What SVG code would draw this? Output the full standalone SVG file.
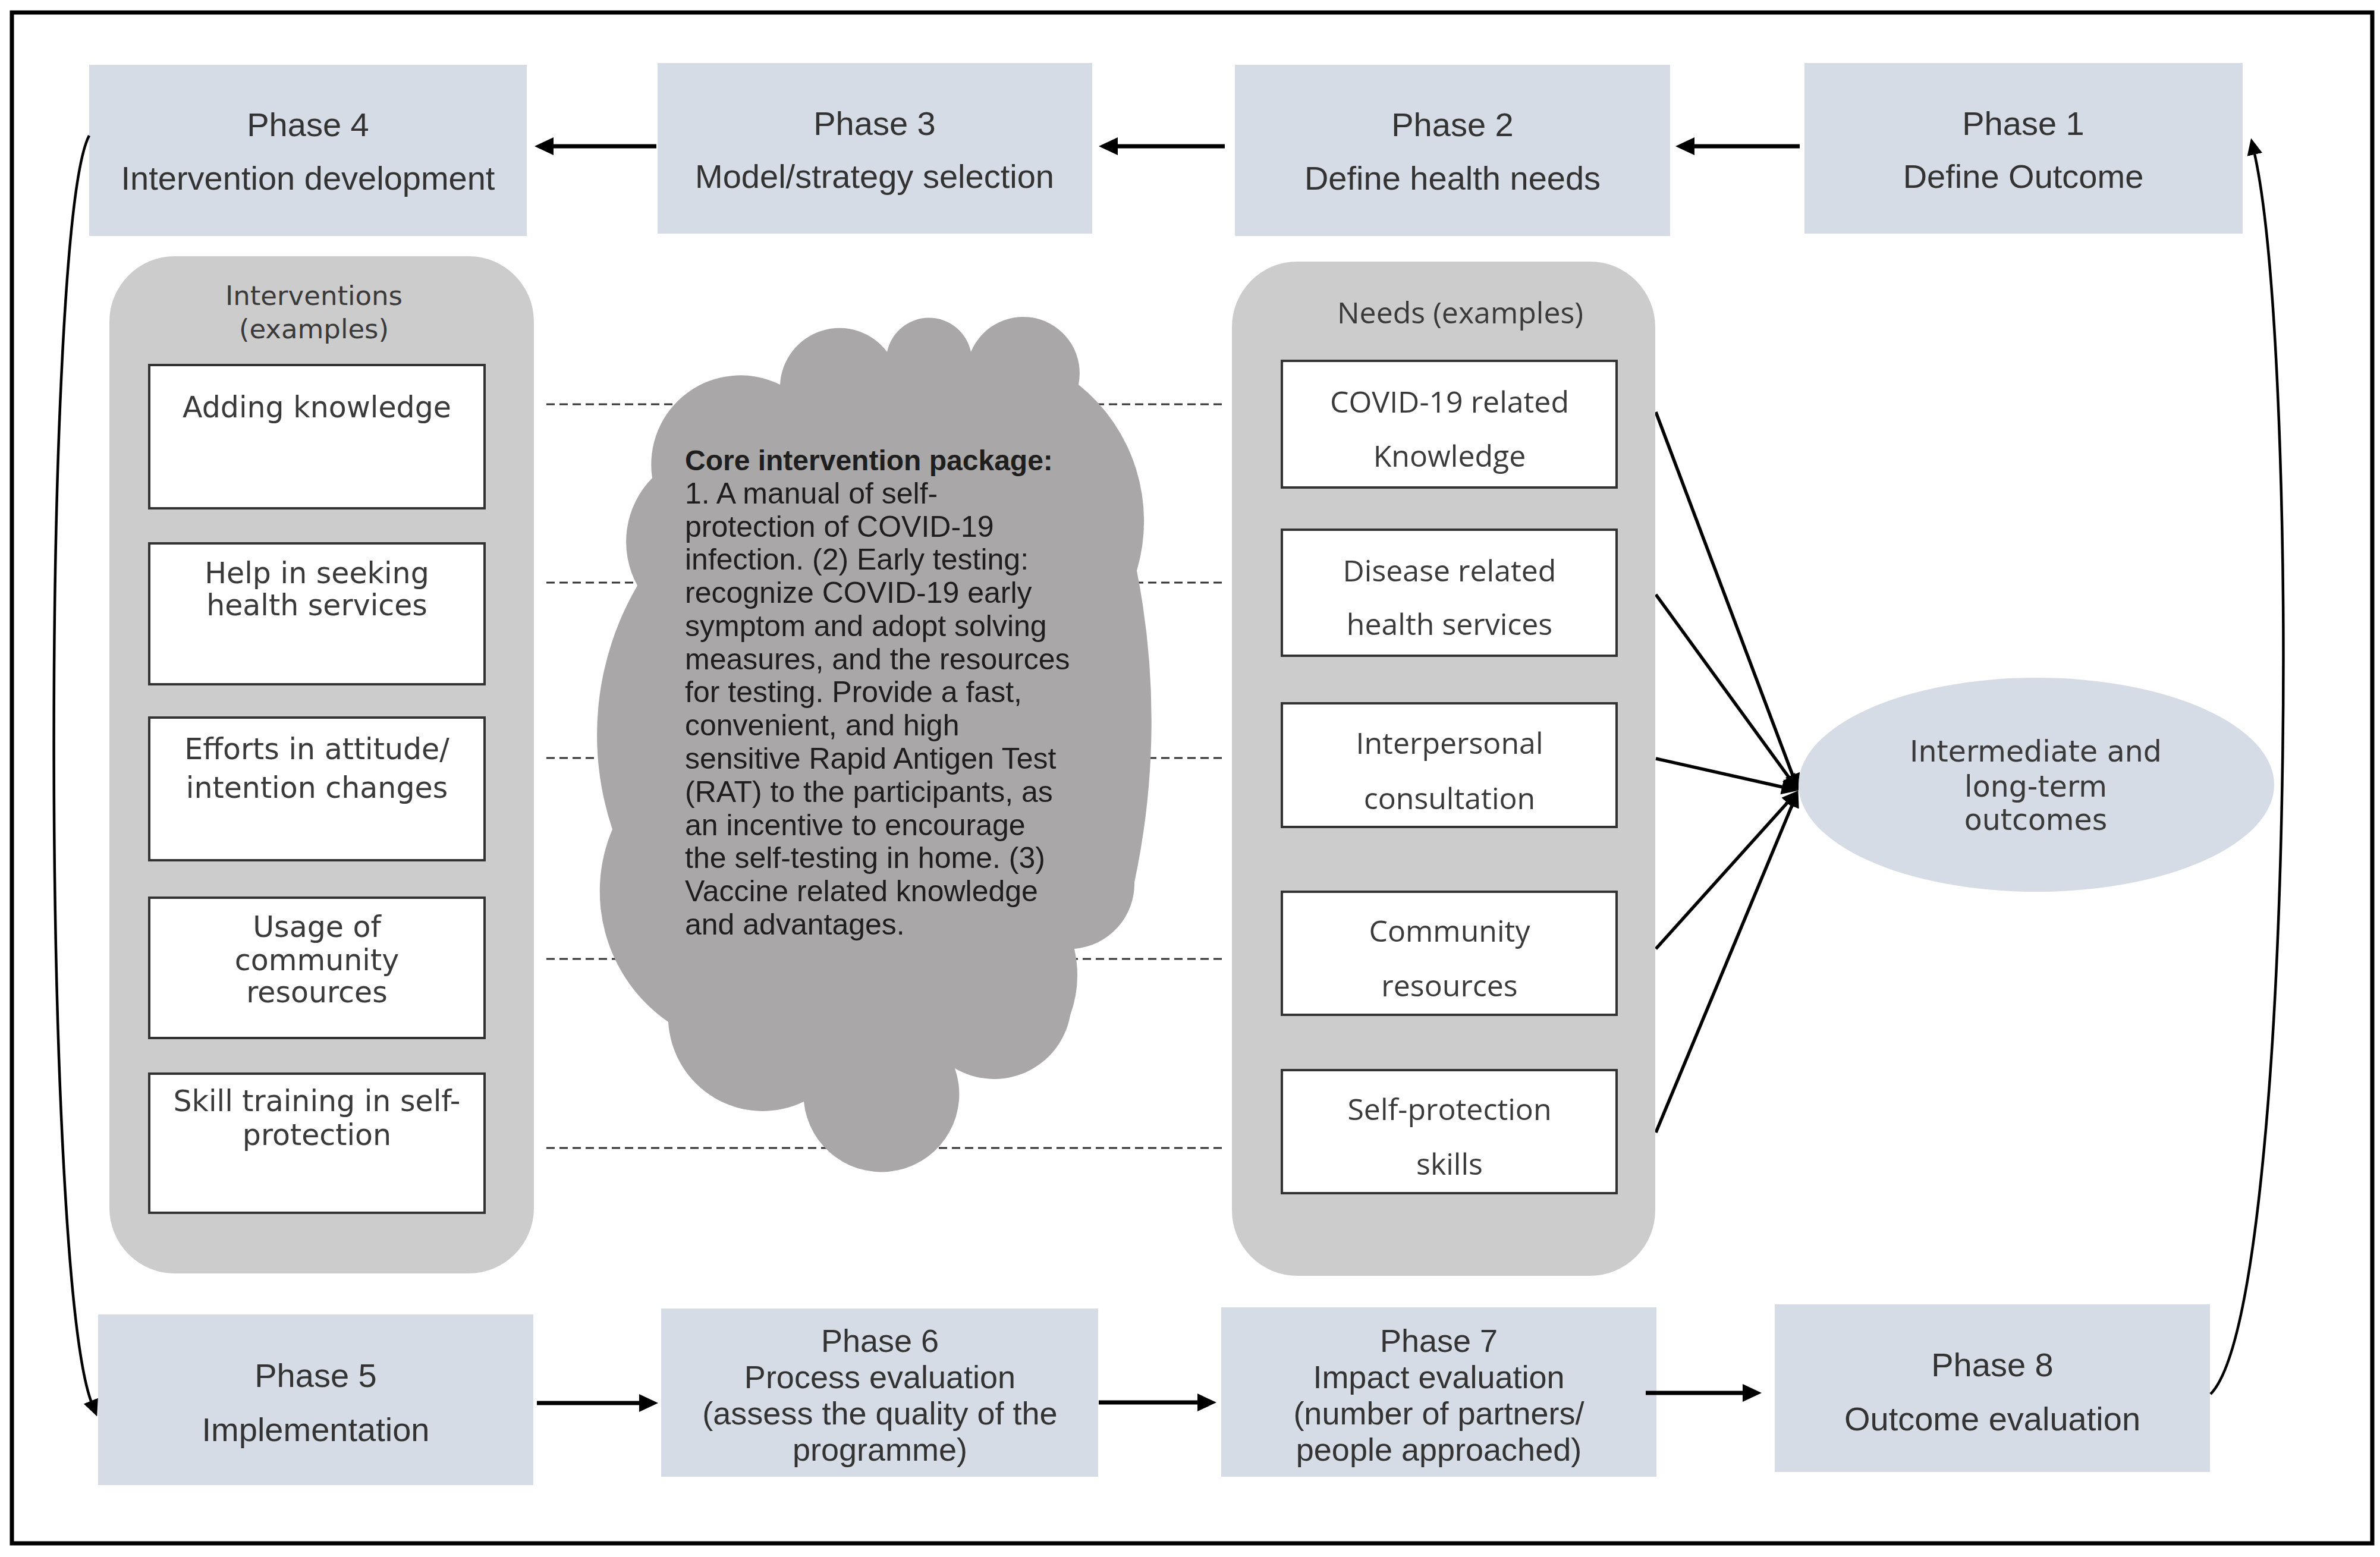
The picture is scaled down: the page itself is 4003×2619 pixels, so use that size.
<svg xmlns="http://www.w3.org/2000/svg" width="4003" height="2619" viewBox="0 0 4003 2619">
<style>
.phase{fill:#d6dce5}
.pt{font-family:"Liberation Sans",Arial,sans-serif;font-size:56px;fill:#333;text-anchor:middle}
.pt4{font-size:54px}
.panel{fill:#cdcccc}
.box{fill:#fff;stroke:#333;stroke-width:4}
.lt{font-family:"DejaVu Sans","Liberation Sans",sans-serif;font-size:49px;fill:#3a3a3a;text-anchor:middle}
.rt{font-family:"Open Sans","Liberation Sans",sans-serif;font-size:50px;fill:#3a3a3a;text-anchor:middle}
.ct{font-family:"Liberation Sans",Arial,sans-serif;font-size:50px;fill:#1e1e1e}
.dash{stroke:#333;stroke-width:3;stroke-dasharray:14 8;fill:none}
.thick{stroke:#000;stroke-width:7;fill:none;marker-end:url(#ah)}
.thin{stroke:#000;stroke-width:4.5;fill:none;marker-end:url(#ah2)}
.conv{stroke:#000;stroke-width:5.5;fill:none;marker-end:url(#ah2)}
.cloud{fill:#a9a7a7}
</style>
<defs>
<marker id="ah" markerUnits="userSpaceOnUse" markerWidth="32" markerHeight="30" viewBox="0 0 32 30" refX="8" refY="15" orient="auto"><path d="M0,0 L32,15 L0,30 z" fill="#000"/></marker>
<marker id="ah2" markerUnits="userSpaceOnUse" markerWidth="28" markerHeight="26" viewBox="0 0 28 26" refX="6" refY="13" orient="auto"><path d="M0,0 L28,13 L0,26 z" fill="#000"/></marker>
</defs>
<rect x="0" y="0" width="4003" height="2619" fill="#fff"/>
<rect id="frame" x="20" y="21" width="3970" height="2575" fill="none" stroke="#000" stroke-width="7"/>

<g id="phase4"><rect class="phase" x="150" y="109" width="736" height="288"/><text class="pt" x="518" y="229">Phase 4</text><text class="pt" x="518" y="319">Intervention development</text></g>
<g id="phase3"><rect class="phase" x="1106" y="106" width="731" height="287"/><text class="pt" x="1471" y="227">Phase 3</text><text class="pt" x="1471" y="316">Model/strategy selection</text></g>
<g id="phase2"><rect class="phase" x="2077" y="109" width="732" height="288"/><text class="pt" x="2443" y="229">Phase 2</text><text class="pt" x="2443" y="319">Define health needs</text></g>
<g id="phase1"><rect class="phase" x="3035" y="106" width="737" height="287"/><text class="pt" x="3403" y="227">Phase 1</text><text class="pt" x="3403" y="316">Define Outcome</text></g>

<g id="phase5"><rect class="phase" x="165" y="2211" width="732" height="287"/><text class="pt" x="531" y="2333">Phase 5</text><text class="pt" x="531" y="2424">Implementation</text></g>
<g id="phase6"><rect class="phase" x="1112" y="2201" width="735" height="283"/><text class="pt pt4" x="1480" y="2274">Phase 6</text><text class="pt pt4" x="1480" y="2335">Process evaluation</text><text class="pt pt4" x="1480" y="2396">(assess the quality of the</text><text class="pt pt4" x="1480" y="2457">programme)</text></g>
<g id="phase7"><rect class="phase" x="2054" y="2199" width="732" height="285"/><text class="pt pt4" x="2420" y="2274">Phase 7</text><text class="pt pt4" x="2420" y="2335">Impact evaluation</text><text class="pt pt4" x="2420" y="2396">(number of partners/</text><text class="pt pt4" x="2420" y="2457">people approached)</text></g>
<g id="phase8"><rect class="phase" x="2985" y="2194" width="732" height="282"/><text class="pt" x="3351" y="2315">Phase 8</text><text class="pt" x="3351" y="2406">Outcome evaluation</text></g>

<g id="connectors">
<line class="dash" x1="919" y1="680" x2="2056" y2="680"/>
<line class="dash" x1="919" y1="980" x2="2056" y2="980"/>
<line class="dash" x1="919" y1="1275" x2="2056" y2="1275"/>
<line class="dash" x1="919" y1="1613" x2="2056" y2="1613"/>
<line class="dash" x1="919" y1="1931" x2="2056" y2="1931"/>
<path class="thick" d="M3027,246 L2842,246"/>
<path class="thick" d="M2060,246 L1872,246"/>
<path class="thick" d="M1104,246 L923,246"/>
<path class="thick" d="M903,2360 L1083,2360"/>
<path class="thick" d="M1848,2359 L2022,2359"/>
<path class="thick" d="M2768,2343 L2939,2343"/>
<path class="thin" d="M150,228 C70,380 70,2150 155,2362"/>
<path class="thin" d="M3718,2345 C3860,2200 3870,600 3791,254"/>
<path class="conv" d="M2785,693 L3017,1309"/>
<path class="conv" d="M2785,1000 L3012,1312"/>
<path class="conv" d="M2785,1276 L3003,1325"/>
<path class="conv" d="M2785,1596 L3010,1346"/>
<path class="conv" d="M2785,1905 L3016,1350"/>
</g>

<g id="interventions">
<rect class="panel" x="184" y="431" width="714" height="1711" rx="110" ry="110"/>
<text class="lt" x="528" y="513" style="font-size:45px">Interventions</text>
<text class="lt" x="528" y="569" style="font-size:45px">(examples)</text>
<rect class="box" x="251" y="614" width="564" height="241"/>
<text class="lt" x="533" y="702">Adding knowledge</text>
<rect class="box" x="251" y="914" width="564" height="237"/>
<text class="lt" x="533" y="981">Help in seeking</text><text class="lt" x="533" y="1035">health services</text>
<rect class="box" x="251" y="1207" width="564" height="240"/>
<text class="lt" x="533" y="1277">Efforts in attitude/</text><text class="lt" x="533" y="1342">intention changes</text>
<rect class="box" x="251" y="1510" width="564" height="236"/>
<text class="lt" x="533" y="1576">Usage of</text><text class="lt" x="533" y="1632">community</text><text class="lt" x="533" y="1686">resources</text>
<rect class="box" x="251" y="1806" width="564" height="234"/>
<text class="lt" x="533" y="1869">Skill training in self-</text><text class="lt" x="533" y="1926">protection</text>
</g>

<g id="needs">
<rect class="panel" x="2072" y="440" width="712" height="1706" rx="110" ry="110"/>
<text class="rt" x="2456" y="544">Needs (examples)</text>
<rect class="box" x="2156" y="607" width="563" height="213"/>
<text class="rt" x="2438" y="694">COVID-19 related</text><text class="rt" x="2438" y="785">Knowledge</text>
<rect class="box" x="2156" y="891" width="563" height="212"/>
<text class="rt" x="2438" y="978">Disease related</text><text class="rt" x="2438" y="1068">health services</text>
<rect class="box" x="2156" y="1183" width="563" height="208"/>
<text class="rt" x="2438" y="1268">Interpersonal</text><text class="rt" x="2438" y="1361">consultation</text>
<rect class="box" x="2156" y="1500" width="563" height="207"/>
<text class="rt" x="2438" y="1584">Community</text><text class="rt" x="2438" y="1676">resources</text>
<rect class="box" x="2156" y="1800" width="563" height="207"/>
<text class="rt" x="2438" y="1884">Self-protection</text><text class="rt" x="2438" y="1976">skills</text>
</g>

<g id="outcomes">
<ellipse cx="3425" cy="1320" rx="400" ry="180" fill="#d6dce5"/>
<text class="lt" x="3424" y="1281">Intermediate and</text>
<text class="lt" x="3424" y="1340">long-term</text>
<text class="lt" x="3424" y="1396">outcomes</text>
</g>

<g id="core-package">
<path class="cloud" d="M1097,804 A150,150 0 0 1 1312,647 A100,100 0 0 1 1492,592 A72,72 0 0 1 1633,592 A95,95 0 0 1 1814,647 A294,294 0 0 1 1912,960 A1300,1300 0 0 1 1908,1484 A110,110 0 0 1 1807,1596 A200,200 0 0 1 1800,1708 A130,130 0 0 1 1606,1797 A131,131 0 1 1 1352,1853 A159,159 0 0 1 1124,1719 A267,267 0 0 1 1030,1395 A499,499 0 0 1 1072,985 A153,153 0 0 1 1097,804 Z"/>
<text class="ct" x="1152" y="791" font-weight="bold" fill="#000" style="font-size:48px">Core intervention package:</text>
<text class="ct" x="1152" y="847">1. A manual of self-</text>
<text class="ct" x="1152" y="903">protection of COVID-19</text>
<text class="ct" x="1152" y="958">infection. (2) Early testing:</text>
<text class="ct" x="1152" y="1014">recognize COVID-19 early</text>
<text class="ct" x="1152" y="1070">symptom and adopt solving</text>
<text class="ct" x="1152" y="1126">measures, and the resources</text>
<text class="ct" x="1152" y="1181">for testing. Provide a fast,</text>
<text class="ct" x="1152" y="1237">convenient, and high</text>
<text class="ct" x="1152" y="1293">sensitive Rapid Antigen Test</text>
<text class="ct" x="1152" y="1349">(RAT) to the participants, as</text>
<text class="ct" x="1152" y="1405">an incentive to encourage</text>
<text class="ct" x="1152" y="1460">the self-testing in home. (3)</text>
<text class="ct" x="1152" y="1516">Vaccine related knowledge</text>
<text class="ct" x="1152" y="1572">and advantages.</text>
</g>
</svg>
